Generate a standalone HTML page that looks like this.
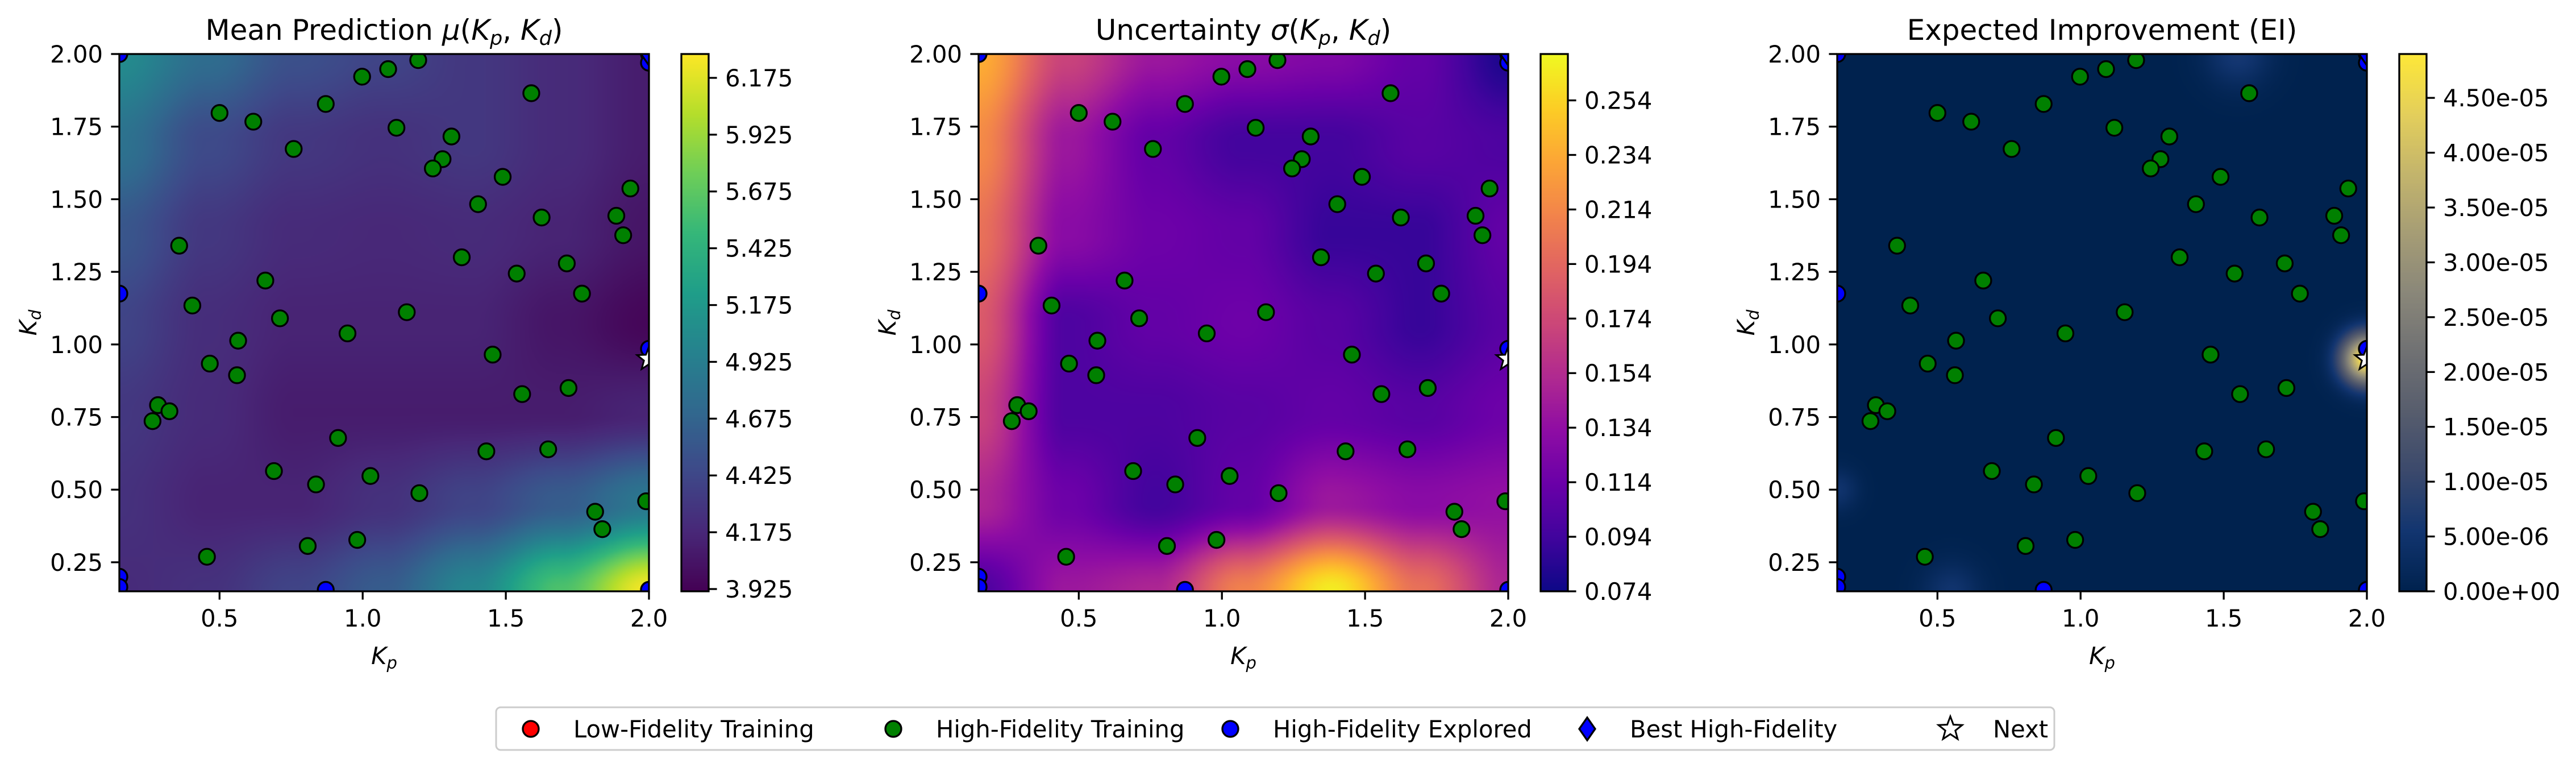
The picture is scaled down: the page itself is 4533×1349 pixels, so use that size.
<!DOCTYPE html>
<html><head><meta charset="utf-8">
<style>
html,body{margin:0;padding:0;background:#fff;}
#wrap{position:relative;width:4533px;height:1349px;overflow:hidden;font-family:"DejaVu Sans","Liberation Sans",sans-serif;}
canvas{position:absolute;}
svg{position:absolute;left:0;top:0;}
</style></head>
<body>
<div id="wrap">
<canvas id="f0" width="466" height="472" style="left:210px;top:95px;width:932px;height:945px"></canvas>
<canvas id="f1" width="466" height="472" style="left:1722px;top:95px;width:932px;height:945px"></canvas>
<canvas id="f2" width="466" height="472" style="left:3233px;top:95px;width:932px;height:945px"></canvas>
<canvas id="c0" width="1" height="300" style="left:1199px;top:95px;width:48px;height:945px"></canvas>
<canvas id="c1" width="1" height="300" style="left:2711px;top:95px;width:48px;height:945px"></canvas>
<canvas id="c2" width="1" height="300" style="left:4222px;top:95px;width:48px;height:945px"></canvas>
<svg id="s" width="4533" height="1349" viewBox="0 0 4533 1349"></svg>
</div>
<script>
// ---- data ----
const gridX = [0.15, 0.458, 0.767, 1.075, 1.383, 1.692, 2.0];
const gridY = [2.0, 1.692, 1.383, 1.075, 0.767, 0.458, 0.15];
const meanGrid = [
 [5.05,4.75,4.50,4.40,4.30,4.20,4.10],
 [4.80,4.45,4.30,4.25,4.30,4.20,4.10],
 [4.55,4.30,4.20,4.18,4.20,4.15,4.05],
 [4.40,4.22,4.15,4.15,4.15,4.05,3.95],
 [4.30,4.20,4.10,4.10,4.10,4.10,4.15],
 [4.25,4.15,4.15,4.25,4.40,4.60,4.85],
 [4.20,4.25,4.40,4.60,5.00,5.60,6.25]];
const stdGrid = [
 [0.235,0.170,0.140,0.130,0.125,0.110,0.080],
 [0.215,0.140,0.110,0.095,0.095,0.105,0.100],
 [0.200,0.130,0.115,0.110,0.090,0.090,0.110],
 [0.185,0.100,0.110,0.115,0.105,0.090,0.105],
 [0.170,0.100,0.100,0.105,0.110,0.105,0.115],
 [0.150,0.115,0.095,0.110,0.140,0.130,0.135],
 [0.100,0.140,0.150,0.210,0.265,0.200,0.150]];
const eiSpotX = [2.0, 1.55, 0.55, 0.15];
const eiSpotY = [0.95, 2.0, 0.15, 0.5];
const eiSpotV = [4.9e-5, 6e-6, 5e-6, 5e-6];
const eiSpotW = [0.06, 0.08, 0.07, 0.05];
const hfX = [1.194,1.089,0.998,0.871,0.5,0.618,1.589,1.118,1.310,0.759,1.279,1.245,1.489,1.403,1.935,1.886,1.625,1.910,0.359,1.346,1.713,1.538,0.660,1.766,0.405,1.154,0.711,0.947,0.565,1.454,0.466,0.561,1.719,1.557,0.285,0.325,0.266,0.914,1.432,1.648,0.690,1.027,0.837,1.198,1.990,1.812,1.837,0.808,0.981,0.456];
const hfY = [1.979,1.948,1.922,1.828,1.797,1.767,1.865,1.746,1.716,1.673,1.638,1.606,1.577,1.483,1.537,1.443,1.437,1.376,1.340,1.300,1.279,1.244,1.220,1.175,1.134,1.111,1.090,1.038,1.013,0.965,0.934,0.894,0.850,0.829,0.791,0.770,0.736,0.678,0.632,0.639,0.564,0.547,0.518,0.488,0.460,0.424,0.364,0.306,0.327,0.269];
const expX = [0.15,2.0,2.0,0.15,2.0,0.15,0.15,0.871,2.0];
const expY = [2.0,2.0,1.97,1.175,0.985,0.20,0.165,0.155,0.155];
const bestX = [2.0], bestY = [2.0];
const nextX = [2.0], nextY = [0.95];
const cbTicks0 = ['3.925','4.175','4.425','4.675','4.925','5.175','5.425','5.675','5.925','6.175'];
const cbTicks1 = ['0.074','0.094','0.114','0.134','0.154','0.174','0.194','0.214','0.234','0.254'];
const cbTicks2 = ['0.00e+00','5.00e-06','1.00e-05','1.50e-05','2.00e-05','2.50e-05','3.00e-05','3.50e-05','4.00e-05','4.50e-05'];
const cbRange = [[3.915,6.28],[0.074,0.271],[0,4.9e-5]];
const xTicks = ['0.5','1.0','1.5','2.0'];
const yTicks = ['0.25','0.50','0.75','1.00','1.25','1.50','1.75','2.00'];

// ---- colormaps ----
const viridis=['#440154','#482878','#3e4989','#31688e','#26828e','#1f9e89','#35b779','#6ece58','#b5de2b','#fde725'];
const plasma=['#0d0887','#41049d','#6a00a8','#8f0da4','#b12a90','#cc4778','#e16462','#f2844b','#fca636','#fcce25','#f0f921'];
const cividis=['#00224e','#123570','#3b496c','#575d6d','#707173','#8a8779','#a69d75','#c4b56c','#e4cf5b','#fee838'];
function hex(h){return [parseInt(h.substr(1,2),16),parseInt(h.substr(3,2),16),parseInt(h.substr(5,2),16)];}
function cmap(stops,t){t=Math.max(0,Math.min(1,t));const n=stops.length-1;const f=t*n;const i=Math.min(n-1,Math.floor(f));const u=f-i;const a=hex(stops[i]),b=hex(stops[i+1]);return [a[0]+(b[0]-a[0])*u,a[1]+(b[1]-a[1])*u,a[2]+(b[2]-a[2])*u];}
const maps=[viridis,plasma,cividis];

function gridVal(g,x,y){
  let fx=(x-gridX[0])/(gridX[6]-gridX[0])*6, fy=(gridY[0]-y)/(gridY[0]-gridY[6])*6;
  fx=Math.max(0,Math.min(5.9999,fx)); fy=Math.max(0,Math.min(5.9999,fy));
  const i=Math.floor(fx), j=Math.floor(fy); let u=fx-i, v=fy-j;
  u=u*u*(3-2*u); v=v*v*(3-2*v);
  return g[j][i]*(1-u)*(1-v)+g[j][i+1]*u*(1-v)+g[j+1][i]*(1-u)*v+g[j+1][i+1]*u*v;
}
function eiVal(x,y){let s=0;for(let k=0;k<eiSpotX.length;k++){const dx=x-eiSpotX[k],dy=y-eiSpotY[k];s+=eiSpotV[k]*Math.exp(-(dx*dx+dy*dy)/(2*eiSpotW[k]*eiSpotW[k]));}return s;}

for(let p=0;p<3;p++){
  const c=document.getElementById('f'+p),ctx=c.getContext('2d');
  const W=c.width,H=c.height,img=ctx.createImageData(W,H);
  for(let j=0;j<H;j++)for(let i=0;i<W;i++){
    const x=0.15+(i+0.5)/W*1.85, y=2.0-(j+0.5)/H*1.85;
    const v = p==0?gridVal(meanGrid,x,y):p==1?gridVal(stdGrid,x,y):eiVal(x,y);
    const col=cmap(maps[p],(v-cbRange[p][0])/(cbRange[p][1]-cbRange[p][0]));
    const o=(j*W+i)*4; img.data[o]=col[0];img.data[o+1]=col[1];img.data[o+2]=col[2];img.data[o+3]=255;
  }
  ctx.putImageData(img,0,0);
  const cb=document.getElementById('c'+p),cc=cb.getContext('2d');
  for(let j=0;j<cb.height;j++){const col=cmap(maps[p],1-(j+0.5)/cb.height);cc.fillStyle='rgb('+col.map(Math.round).join(',')+')';cc.fillRect(0,j,1,1);}
}

// ---- SVG overlay ----
const NS='http://www.w3.org/2000/svg';
const svg=document.getElementById('s');
function el(tag,attrs,parent){const e=document.createElementNS(NS,tag);for(const k in attrs)e.setAttribute(k,attrs[k]);(parent||svg).appendChild(e);return e;}
const lefts=[210,1722,3233], TOP=95, W=932, H=945, CBOFF=989, CBW=48;
const titles=[['Mean Prediction ','μ'],['Uncertainty ','σ'],['Expected Improvement (EI)',null]];
const defs=el('defs',{});
function starPts(cx,cy,R){let s=[];for(let i=0;i<10;i++){const a=-Math.PI/2+i*Math.PI/5;const rr=i%2?R*0.42:R;s.push((cx+rr*Math.cos(a)).toFixed(1)+','+(cy+rr*Math.sin(a)).toFixed(1));}return s.join(' ');}
for(let p=0;p<3;p++){
  const L=lefts[p];
  const cp=el('clipPath',{id:'clip'+p},defs); el('rect',{x:L,y:TOP,width:W,height:H},cp);
  const sx=v=>L+(v-0.15)/1.85*W, sy=v=>TOP+(2.0-v)/1.85*H;
  const g=el('g',{'clip-path':'url(#clip'+p+')'});
  
  
  for(let k=0;k<hfX.length;k++){const c=el('circle',{cx:sx(hfX[k]),cy:sy(hfY[k]),r:14,fill:'#008000',stroke:'#000','stroke-width':3.3},g);
    
    }
  for(let k=0;k<expX.length;k++){const c=el('circle',{cx:sx(expX[k]),cy:sy(expY[k]),r:14,fill:'#0000ff',stroke:'#000','stroke-width':3.3},g);
    
    }
  for(let k=0;k<bestX.length;k++){const x=sx(bestX[k]),y=sy(bestY[k]);const d=el('polygon',{points:`${x},${y-20} ${x+14},${y} ${x},${y+20} ${x-14},${y}`,fill:'#0000ff',stroke:'#000','stroke-width':3.3},g);
    
    }
  for(let k=0;k<nextX.length;k++){const s=el('polygon',{points:starPts(sx(nextX[k]),sy(nextY[k]),22),fill:'#fff',stroke:'#000','stroke-width':3},g);
    
    }
  el('rect',{x:L,y:TOP,width:W,height:H,fill:'none',stroke:'#000','stroke-width':3.3});
  xTicks.forEach(t=>{const x=sx(parseFloat(t));el('line',{x1:x,y1:TOP+H,x2:x,y2:TOP+H+14.6,stroke:'#000','stroke-width':3.3});
    const tx=el('text',{x:x,y:TOP+H+62,'font-size':41.7,'text-anchor':'middle'});tx.textContent=t;
    
    });
  yTicks.forEach(t=>{const y=sy(parseFloat(t));el('line',{x1:L-14.6,y1:y,x2:L,y2:y,stroke:'#000','stroke-width':3.3});
    const tx=el('text',{x:L-29,y:y+15,'font-size':41.7,'text-anchor':'end'});tx.textContent=t;
    
    });
  const xl=el('text',{x:L+W/2,y:1168,'font-size':41.7,'text-anchor':'middle','font-style':'italic'});
  xl.innerHTML='K<tspan font-size="29" dy="8">p</tspan>';
  
  
  const yl=el('text',{x:0,y:0,'font-size':41.7,'text-anchor':'middle','font-style':'italic',transform:`translate(${L-146},${TOP+H/2}) rotate(-90)`});
  yl.innerHTML='K<tspan font-size="29" dy="8">d</tspan>';
  
  
  const tt=el('text',{x:L+W/2,y:70,'font-size':50,'text-anchor':'middle'});
  if(titles[p][1]) tt.innerHTML=titles[p][0]+'<tspan font-style="italic">'+titles[p][1]+'</tspan>(<tspan font-style="italic">K</tspan><tspan font-size="35" dy="9" font-style="italic">p</tspan><tspan dy="-9">, </tspan><tspan font-style="italic">K</tspan><tspan font-size="35" dy="9" font-style="italic">d</tspan><tspan dy="-9">)</tspan>';
  else tt.textContent=titles[p][0];
  
  
  const CL=L+CBOFF, ticks=[cbTicks0,cbTicks1,cbTicks2][p], r=cbRange[p];
  el('rect',{x:CL,y:TOP,width:CBW,height:H,fill:'none',stroke:'#000','stroke-width':3.3});
  ticks.forEach(t=>{const v=parseFloat(t);const y=TOP+H-(v-r[0])/(r[1]-r[0])*H;
    el('line',{x1:CL+CBW,y1:y,x2:CL+CBW+14.6,y2:y,stroke:'#000','stroke-width':3.3});
    const tx=el('text',{x:CL+CBW+29,y:y+15,'font-size':41.7});tx.textContent=t;
    
    });
}

// legend
const lg=el('g',{});


el('rect',{x:873,y:1244,width:2742,height:75,rx:8,fill:'#fff',stroke:'#cccccc','stroke-width':3},lg);
const legLabels=['Low-Fidelity Training','High-Fidelity Training','High-Fidelity Explored','Best High-Fidelity','Next'];
const legMX=[934,1572,2165,2793,3432];
const legColors=['#ff0000','#008000','#0000ff','#0000ff','#ffffff'];
legLabels.forEach((t,i)=>{
  const x=legMX[i],y=1282;
  let m;
  if(i<3) m=el('circle',{cx:x,cy:y,r:14,fill:legColors[i],stroke:'#000','stroke-width':3.3},lg);
  else if(i==3) m=el('polygon',{points:`${x},${y-20} ${x+14},${y} ${x},${y+20} ${x-14},${y}`,fill:legColors[i],stroke:'#000','stroke-width':3.3},lg);
  else m=el('polygon',{points:starPts(x,y,22),fill:'#fff',stroke:'#000','stroke-width':3},lg);
  
  
  const tx=el('text',{x:x+75,y:1297,'font-size':41.7},lg);tx.textContent=t;
  
  
});
</script>
</body></html>
